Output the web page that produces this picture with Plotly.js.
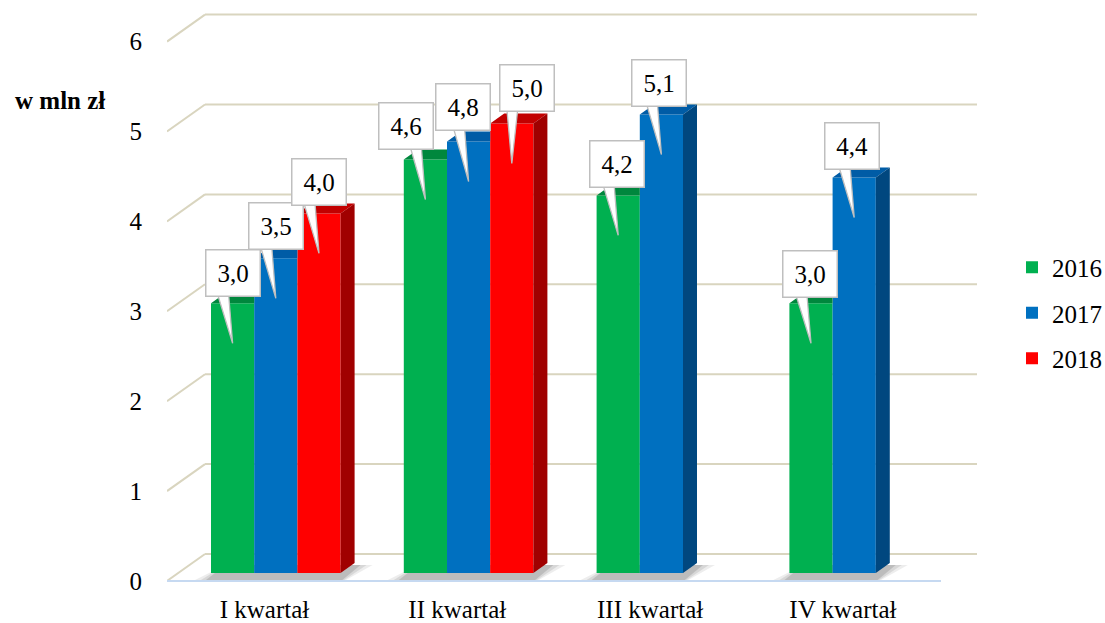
<!DOCTYPE html>
<html>
<head>
<meta charset="utf-8">
<script src="https://cdn.plot.ly/plotly-3.0.1.min.js"></script>
<style>html,body{margin:0;padding:0;background:#fff}#chart{width:1105px;height:623px}</style>
</head>
<body>
<div id="chart"></div>
<script>
// ---------- data ----------
const categories = ['I kwartał', 'II kwartał', 'III kwartał', 'IV kwartał'];
const years = ['2016', '2017', '2018'];
const values2016 = [3.0, 4.6, 4.2, 3.0];
const values2017 = [3.5, 4.8, 5.1, 4.4];
const values2018 = [4.0, 5.0, null, null];
const yTickValues = [0, 1, 2, 3, 4, 5, 6];
const yTickLabels = ['0', '1', '2', '3', '4', '5', '6'];
const yAxisLabel = 'w mln zł';

const series = [values2016, values2017, values2018];

// ---------- style ----------
const FONT = '"Liberation Serif", "Times New Roman", serif';
const colors = ['#00b050', '#0070c0', '#ff0000'];
const topColors = ['#00873d', '#005ca6', '#c20000'];
const sideColors = ['#006a30', '#00477f', '#a00000'];
const gridColor = '#d9d5bf';
const floorColor = '#c6d9f1';

// geometry calibration (pixels)
const W = 1105, H = 623;
const PX_X = 192.8, PX_Y = 89.9;
const plotL = 167, plotR = 977, plotT = 10, plotB = 584;
const zeroPx = 581, firstCatPx = 264.5, floorEndPx = 941;
const xRange = [(plotL - firstCatPx) / PX_X, (plotR - firstCatPx) / PX_X];
const yRange = [-(plotB - zeroPx) / PX_Y, (zeroPx - plotT) / PX_Y];
const barW = 43.2 / PX_X;
const offsets = [-53.5 / PX_X, (-53.5 + 43.2) / PX_X, (-53.5 + 86.4) / PX_X];
const base = 8 / PX_Y;
const dX = 14 / PX_X, dY = 10 / PX_Y;
const wallDX = 38 / PX_X, wallDY = 27 / PX_Y;
// label box tweaks (px)
const labelXShift = [[0, 0, 0], [-19, -6, 15], [-1, -2, 0], [-1, -2, 0]];
const labelYShift = [[6, 8, 7], [9, 10, 12], [7, 8, 0], [5, 7, 0]];

const xIdx = categories.map((c, i) => i);
const fmt = v => v.toFixed(1).replace('.', ',');
const lastIndex = i => { let l = -1; series.forEach((s, k) => { if (s[i] != null) l = k; }); return l; };

const traces = [];

// front faces as bars
series.forEach((s, k) => {
  traces.push({
    type: 'bar', name: years[k], legendgroup: years[k],
    x: xIdx, y: s, base: base, width: barW, offset: offsets[k],
    marker: {color: colors[k], line: {width: 0}},
    hoverinfo: 'skip'
  });
});

// top and side faces
series.forEach((s, k) => {
  const tx = [], ty = [], sx = [], sy = [];
  xIdx.forEach(i => {
    const v = s[i];
    if (v == null) return;
    const lastK = lastIndex(i);
    const x0 = i + offsets[k], x1 = x0 + barW, top = base + v;
    if (k === lastK) {
      tx.push(x0, x1, x1 + dX, x0 + dX, null);
      ty.push(top, top, top + dY, top + dY, null);
      sx.push(x1, x1, x1 + dX, x1 + dX, null);
      sy.push(base, top, top + dY, base + dY, null);
    } else {
      tx.push(x0, x1, x1, x0 + dX, null);
      ty.push(top, top, top + dY, top + dY, null);
    }
  });
  traces.push({type: 'scatter', mode: 'lines', x: tx, y: ty, fill: 'toself',
    fillcolor: topColors[k], line: {width: 0}, hoverinfo: 'skip', showlegend: false});
  if (sx.length) traces.push({type: 'scatter', mode: 'lines', x: sx, y: sy, fill: 'toself',
    fillcolor: sideColors[k], line: {width: 0}, hoverinfo: 'skip', showlegend: false});
});

// callout wedges and label boxes
const wx = [], wy = [];
const annotations = [];
series.forEach((s, k) => {
  xIdx.forEach(i => {
    const v = s[i];
    if (v == null) return;
    const cx = i + offsets[k] + barW / 2;
    const top = base + v;
    const tipY = top - 40 / PX_Y;
    const boxBottom = top + labelYShift[i][k] / PX_Y;
    const boxCx = cx + labelXShift[i][k] / PX_X;
    const boxLeft = boxCx - 25 / PX_X;
    const left = Math.max(boxLeft + 5 / PX_X, cx - 15 / PX_X);
    const right = Math.min(left + 11 / PX_X, cx + 8 / PX_X);
    wx.push(left, cx, right, null);
    wy.push(boxBottom + 3 / PX_Y, tipY, boxBottom + 3 / PX_Y, null);
    annotations.push({
      x: cx, y: top, xref: 'x', yref: 'y', text: fmt(v), showarrow: false,
      xanchor: 'center', yanchor: 'bottom', xshift: labelXShift[i][k], yshift: labelYShift[i][k],
      bgcolor: '#ffffff', bordercolor: '#bfbfbf', borderwidth: 1.5, borderpad: 1,
      width: 51, height: 43, font: {family: FONT, size: 25, color: '#000'}
    });
  });
});
traces.push({type: 'scatter', mode: 'lines', x: wx, y: wy, fill: 'toself',
  fillcolor: '#ffffff', line: {color: '#bfbfbf', width: 1.3}, hoverinfo: 'skip', showlegend: false});

annotations.push({
  x: (13 - plotL) / (plotR - plotL), y: (plotB - 100) / (plotB - plotT), xref: 'paper', yref: 'paper',
  xanchor: 'left', yanchor: 'middle', showarrow: false, text: '<b>' + yAxisLabel + '</b>',
  font: {family: FONT, size: 25, color: '#000'}
});

// gridlines: perspective back wall
const shapes = [];
yTickValues.forEach(v => {
  shapes.push({type: 'line', xref: 'x', yref: 'y', layer: 'below',
    x0: xRange[0], y0: v, x1: xRange[0] + wallDX, y1: v + wallDY,
    line: {color: gridColor, width: 2}});
  shapes.push({type: 'line', xref: 'x', yref: 'y', layer: 'below',
    x0: xRange[0] + wallDX, y0: v + wallDY, x1: xRange[1], y1: v + wallDY,
    line: {color: gridColor, width: 2}});
});
shapes.push({type: 'line', xref: 'x', yref: 'y', layer: 'below',
  x0: xRange[0], y0: 0, x1: (floorEndPx - firstCatPx) / PX_X, y1: 0,
  line: {color: floorColor, width: 2}});

// soft floor shadows (below the bars)
const shadowLayers = [
  {a: 16, c: 18, op: 0.07},
  {a: 10, c: 12, op: 0.09},
  {a: 5, c: 6, op: 0.12}
];
shadowLayers.forEach(L => {
  xIdx.forEach(i => {
    const lastK = lastIndex(i);
    const xs = i + offsets[0];
    const xe = i + offsets[lastK] + barW;
    const pts = [
      [xs - L.a / PX_X, base - 7 / PX_Y],
      [xe + L.c * 0.3 / PX_X, base - 7 / PX_Y],
      [xe + dX + L.c / PX_X, base + dY - 2 / PX_Y],
      [xs + dX, base + dY - 2 / PX_Y]
    ];
    const path = 'M' + pts.map(p => p[0] + ',' + p[1]).join('L') + 'Z';
    shapes.push({type: 'path', xref: 'x', yref: 'y', layer: 'below', path: path,
      fillcolor: 'rgba(0,0,0,' + L.op + ')', line: {width: 0}});
  });
});

const layout = {
  width: W, height: H, autosize: false,
  margin: {l: plotL, r: W - plotR, t: plotT, b: H - plotB, pad: 0, autoexpand: false},
  paper_bgcolor: '#fff', plot_bgcolor: 'rgba(0,0,0,0)',
  barmode: 'overlay',
  font: {family: FONT, size: 25, color: '#000'},
  xaxis: {range: xRange, tickvals: xIdx, ticktext: categories, showgrid: false, zeroline: false,
    showline: false, ticks: 'outside', ticklen: 3, tickcolor: 'rgba(0,0,0,0)', automargin: false,
    tickfont: {family: FONT, size: 25, color: '#000'}, fixedrange: true},
  yaxis: {range: yRange, tickvals: yTickValues, ticktext: yTickLabels, showgrid: false, zeroline: false,
    showline: false, ticks: 'outside', ticklen: 19, tickcolor: 'rgba(0,0,0,0)', automargin: false,
    tickfont: {family: FONT, size: 25, color: '#000'}, fixedrange: true},
  legend: {x: (1012 - plotL) / (plotR - plotL), xanchor: 'left', y: (plotB - 313) / (plotB - plotT), yanchor: 'middle',
    font: {family: FONT, size: 25, color: '#000'}, traceorder: 'grouped', tracegroupgap: 10,
    bgcolor: 'rgba(0,0,0,0)'},
  shapes: shapes,
  annotations: annotations,
  hovermode: false
};

Plotly.newPlot('chart', traces, layout, {displayModeBar: false, staticPlot: true});
</script>
</body>
</html>
